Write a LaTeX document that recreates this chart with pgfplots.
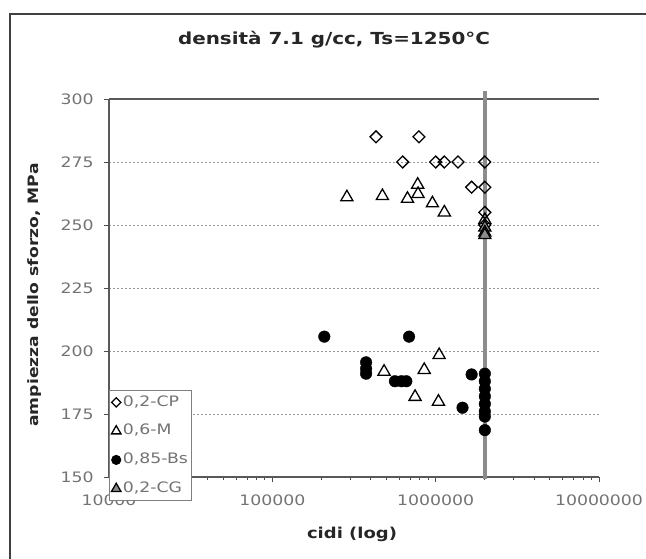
\documentclass[border=0pt]{standalone}
\usepackage{pgfplots}
\pgfplotsset{compat=1.18}
\usepackage{fontspec}
\setmainfont{DejaVu Sans}[FakeStretch=1.2]
\begin{document}
\begin{tikzpicture}
\useasboundingbox (0pt,0pt) rectangle (646pt,-558pt);
\draw[black!75, line width=1.5pt] (10pt,-562pt) -- (10pt,-14pt) -- (650pt,-14pt);
\node[font=\bfseries\fontsize{16.6}{20}\selectfont, text=black!85] at (334pt,-40pt) {densità 7.1 g/cc, Ts=1250°C};
\begin{axis}[
  at={(109pt,-477pt)}, anchor=south west, scale only axis,
  width=490pt, height=378pt,
  xmode=log, xmin=1e4, xmax=1e7, ymin=150, ymax=300,
  xtick={1e4,1e5,1e6,1e7}, xticklabels={10000,100000,1000000,10000000},
  ytick={150,175,...,300},
  minor xtick={}, 
  axis y line*=left,
  xtick pos=left,
  tick align=outside, major tick length=5pt,
  tick style={black!70, line width=0.9pt},
  axis line style={black!65, line width=1.3pt},
  ymajorgrids, xmajorgrids=false,
  major grid style={black!40, line width=0.8pt, dash pattern=on 2pt off 2pt},
  /pgf/number format/assume math mode=true,
  ticklabel style={font=\fontsize{14.4}{17}\selectfont, text=black!55},
  yticklabel style={xshift=-7pt},
  xticklabel style={yshift=-9pt},
  xlabel={cidi (log)}, ylabel={ampiezza dello sforzo, MPa},
  every axis x label/.style={at={(rel axis cs:0.496,-0.153)}, anchor=center, font=\bfseries\fontsize{15}{18}\selectfont, text=black!85},
  every axis y label/.style={at={(rel axis cs:-0.151,0.4815)}, anchor=center, rotate=90, font=\bfseries\fontsize{14.3}{17}\selectfont, text=black!85},
  clip=false,
  legend cell align=left,
  legend style={at={(rel axis cs:0,0.23)}, anchor=north west, draw=black!50, line width=1pt, fill=white,
    font=\fontsize{14.4}{17}\selectfont, text=black!55, inner xsep=2pt, inner ysep=5pt, row sep=15.3pt,
    nodes={inner ysep=0pt, text height=10.5pt, text depth=3pt}},
  legend image code/.code={\draw[#1, only marks, every mark/.append style={scale=0.78}] plot coordinates {(6pt,0pt)};},
]
\addplot[black!45, line width=4.5pt, forget plot] coordinates {(2e6,149.3) (2e6,303)};
\addplot[only marks, mark=square, mark size=4.2pt, mark options={rotate=45, draw=black, fill=white, line width=1.3pt}] coordinates {
(431000,285) (790000,285) (628000,275) (1000000,275) (1130000,275) (1370000,275) (2000000,275)
(1660000,265) (2000000,265) (2000000,255) (2000000,250)
};
\addlegendentry{0,2-CP}
\addplot[only marks, mark=triangle, mark size=7pt, mark options={draw=black, fill=white, line width=1.3pt}] coordinates {
(286000,261) (472000,261.5) (672000,260.4) (776000,266) (780000,262.3) (955000,258.6) (1130000,255)
(483000,191.8) (851000,192.5) (1050000,198.4) (748000,181.8) (1040000,179.9) (2000000,252)
};
\addlegendentry{0,6-M}
\addplot[only marks, mark=*, mark size=5.8pt, mark options={draw=black, fill=black}] coordinates {
(208000,205.7) (687000,205.7) (375000,195.5) (375000,193) (375000,191)
(563000,188) (617000,188) (661000,188) (1660000,190.7) (1460000,177.5)
(2000000,191) (2000000,188) (2000000,185) (2000000,182) (2000000,179) (2000000,176) (2000000,174) (2000000,168.6)
};
\addlegendentry{0,85-Bs}
\addplot[only marks, mark=triangle*, mark size=7pt, mark options={draw=black, fill=black!45, line width=1.3pt}] coordinates {
(2000000,249) (2000000,247) (2000000,246)
};
\addlegendentry{0,2-CG}
\end{axis}
\end{tikzpicture}
\end{document}
